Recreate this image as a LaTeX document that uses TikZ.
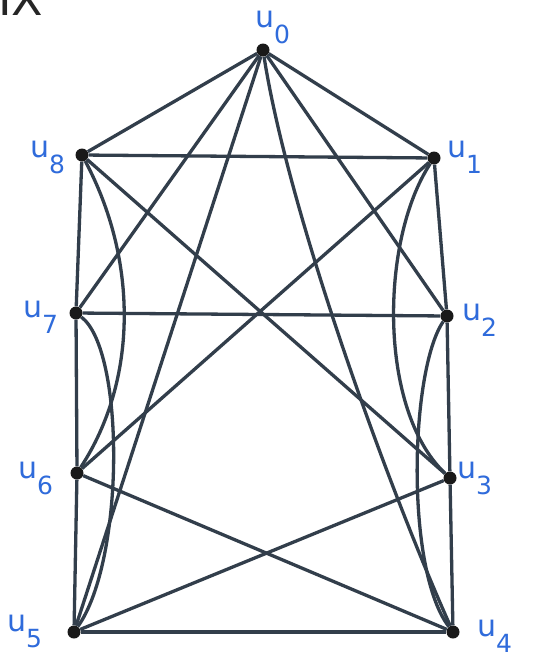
\documentclass[tikz,border=0pt]{standalone}
\usepackage{fontspec}
\setmainfont{DejaVu Sans}
\definecolor{edgec}{HTML}{323E4B}
\definecolor{labc}{HTML}{2F6BDB}
\newcommand\ulab[1]{u\raisebox{-16pt}{\fontsize{25}{25}\selectfont #1}}
\begin{document}
\begin{tikzpicture}[x=1pt,y=-1pt,
  vtx/.style={circle,fill=black!90,inner sep=0pt,minimum size=13pt},
  edge/.style={draw=edgec,line width=3.3pt},
  lab/.style={text=labc,font=\fontsize{30}{30}\selectfont,inner sep=0pt,anchor=base west}]
\useasboundingbox (0,0) rectangle (537,662);
\fill[white] (0,0) rectangle (537,662);
% partial heading at top-left
\node[anchor=base west,inner sep=0pt,text=black!85,font=\fontsize{46}{46}\selectfont] (ix) at (-2,15) {IX};
% vertices
\node[vtx] (u0) at (263,50) {};
\node[vtx] (u8) at (82,155) {};
\node[vtx] (u1) at (434,158) {};
\node[vtx] (u7) at (76,313) {};
\node[vtx] (u2) at (447,316) {};
\node[vtx] (u6) at (77,473) {};
\node[vtx] (u3) at (450,478) {};
\node[vtx] (u5) at (74,632) {};
\node[vtx] (u4) at (453,632) {};
% edges from u0
\path[edge] (u0) -- (u8);
\path[edge] (u0) -- (u7);
\path[edge] (u0) -- (u5);
\path[edge] (u0) .. controls (288,210) and (385,480) .. (u4);
\path[edge] (u0) -- (u2);
\path[edge] (u0) -- (u1);
% from u8
\path[edge] (u8) -- (u1);
\path[edge] (u8) -- (u7);
\path[edge] (u8) .. controls (138,260) and (138,380) .. (u6);
\path[edge] (u8) -- (u3);
% from u1
\path[edge] (u1) -- (u2);
\path[edge] (u1) .. controls (380,240) and (378,410) .. (u3);
\path[edge] (u1) -- (u6);
% from u7
\path[edge] (u7) -- (u2);
\path[edge] (u7) .. controls (125,350) and (125,560) .. (u5);
\path[edge] (u7) -- (u6);
% from u2
\path[edge] (u2) -- (u3);
\path[edge] (u2) .. controls (410,370) and (405,570) .. (u4);
% from u6
\path[edge] (u6) -- (u4);
\path[edge] (u6) -- (u5);
% from u3
\path[edge] (u3) -- (u5);
\path[edge] (u3) -- (u4);
% bottom
\path[edge] (u5) -- (u4);
% labels
\node[lab] (l0) at (255,27) {\ulab{0}};
\node[lab] (l8) at (30,157) {\ulab{8}};
\node[lab] (l1) at (447,157) {\ulab{1}};
\node[lab] (l7) at (23,317) {\ulab{7}};
\node[lab] (l2) at (462,320) {\ulab{2}};
\node[lab] (l6) at (18,478) {\ulab{6}};
\node[lab] (l3) at (457,478) {\ulab{3}};
\node[lab] (l5) at (7,631) {\ulab{5}};
\node[lab] (l4) at (477,636) {\ulab{4}};
\end{tikzpicture}
\end{document}
